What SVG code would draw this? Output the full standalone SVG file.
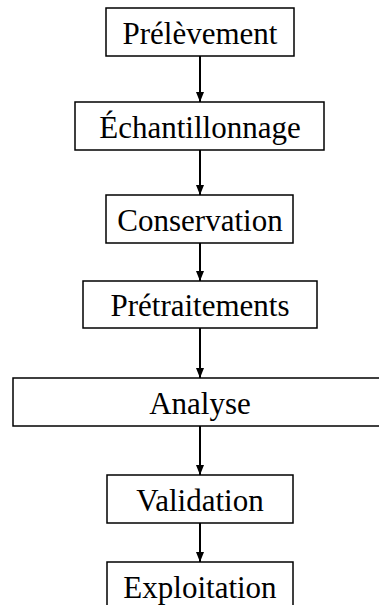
<svg xmlns="http://www.w3.org/2000/svg" width="379" height="605" viewBox="0 0 379 605">
  <defs>
    <style>
      .box { fill: #fff; stroke: #000; stroke-width: 1.5; }
      .lbl { font-family: "Liberation Serif", "Times New Roman", serif; font-size: 31px; fill: #000; text-anchor: middle; }
      .link { stroke: #000; stroke-width: 2; fill: none; marker-end: url(#arrow); }
    </style>
    <marker id="arrow" markerWidth="10" markerHeight="10" refX="10" refY="5" orient="auto" markerUnits="userSpaceOnUse">
      <path d="M0,1 L10,5 L0,9 Z" fill="#000"/>
    </marker>
  </defs>
  <rect width="379" height="605" fill="#fff"/>

  <g id="connectors">
    <line class="link" x1="200" y1="56" x2="200" y2="102"/>
    <line class="link" x1="200" y1="150" x2="200" y2="195"/>
    <line class="link" x1="200" y1="243" x2="200" y2="281"/>
    <line class="link" x1="200" y1="328" x2="200" y2="378"/>
    <line class="link" x1="200" y1="426" x2="200" y2="475"/>
    <line class="link" x1="200" y1="523" x2="200" y2="562"/>
  </g>

  <g id="prelevement">
    <rect class="box" x="106" y="8" width="188" height="48"/>
    <text class="lbl" x="200" y="44">Prélèvement</text>
  </g>
  <g id="echantillonnage">
    <rect class="box" x="75" y="102" width="249" height="48"/>
    <text class="lbl" x="200" y="138">Échantillonnage</text>
  </g>
  <g id="conservation">
    <rect class="box" x="106" y="195" width="187" height="48"/>
    <text class="lbl" x="200" y="231">Conservation</text>
  </g>
  <g id="pretraitements">
    <rect class="box" x="83" y="281" width="234" height="47"/>
    <text class="lbl" x="200" y="316">Prétraitements</text>
  </g>
  <g id="analyse">
    <rect class="box" x="13" y="378" width="375" height="48"/>
    <text class="lbl" x="200" y="414">Analyse</text>
  </g>
  <g id="validation">
    <rect class="box" x="107" y="475" width="186" height="48"/>
    <text class="lbl" x="200" y="511">Validation</text>
  </g>
  <g id="exploitation">
    <rect class="box" x="107" y="562" width="186" height="48"/>
    <text class="lbl" x="200" y="598">Exploitation</text>
  </g>
</svg>
